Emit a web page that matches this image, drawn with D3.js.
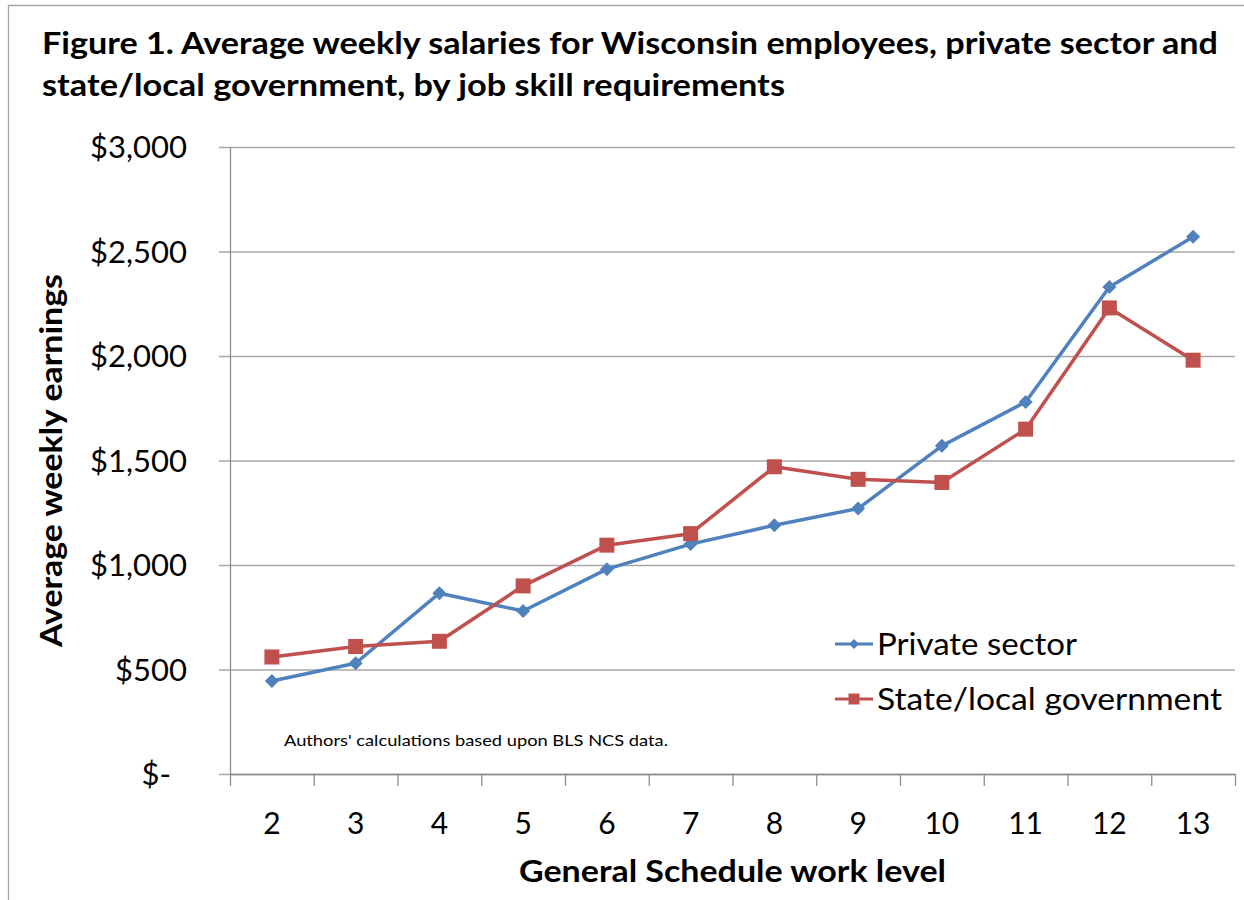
<!DOCTYPE html>
<html>
<head>
<meta charset="utf-8">
<script src="https://cdn.jsdelivr.net/npm/d3@7"></script>
<style>
    body { margin: 0; background: #fff; }
    svg { display: block; font-family: Lato, "Open Sans", sans-serif; }
    .grid line { stroke: #a6a6a6; stroke-width: 1.3; }
    .grid path { display: none; }
    .axis path, .axis line { stroke: #8c8c8c; stroke-width: 1.3; }
</style>
</head>
<body>
<svg></svg>
<script>
    //-------------------
    // DATA
    //-------------------
    var levels = ["2", "3", "4", "5", "6", "7", "8", "9", "10", "11", "12", "13"];
    var privateSector = [445, 530, 865, 780, 980, 1100, 1190, 1270, 1570, 1780, 2330, 2570];
    var stateLocal = [560, 610, 635, 900, 1095, 1150, 1470, 1410, 1395, 1650, 2230, 1980];
    var yTicks = [0, 500, 1000, 1500, 2000, 2500, 3000];
    var seriesNames = ["Private sector", "State/local government"];

    //-------------------
    // GLOBAL VARIABLES
    //-------------------
    var width = 1244,
        height = 900;

    // plot box (window.top is reserved, so no plain "top")
    var plotLeft = 230, plotRight = 1235, plotTop = 147, plotBottom = 774;

    var blue = "#4f81bd", red = "#c0504d";

    var svg = d3.select("svg")
        .attr("width", width)
        .attr("height", height);

    var x = d3.scaleBand()
        .domain(levels)
        .range([plotLeft, plotRight])
        .padding(0);

    var xEdges = d3.scaleLinear()
        .domain([0, levels.length])
        .range([plotLeft, plotRight]);

    var y = d3.scaleLinear()
        .domain([0, 3000])
        .range([plotBottom, plotTop]);

    // outer chart border
    svg.append("path")
        .attr("d", "M8.5," + (height + 2) + "V5.5H" + (width + 2))
        .attr("fill", "none")
        .attr("stroke", "#a6a6a6")
        .attr("stroke-width", 1.3);

    //------------
    // TITLE
    //------------
    var titleLines = [
        { text: "Figure 1. Average weekly salaries for Wisconsin employees, private sector and", y: 54, w: 1176 },
        { text: "state/local government, by job skill requirements", y: 96, w: 743 }
    ];
    svg.selectAll("text.title").data(titleLines)
        .enter()
        .append("text")
        .attr("class", "title")
        .attr("x", 42)
        .attr("y", d => d.y)
        .attr("textLength", d => d.w)
        .attr("lengthAdjust", "spacingAndGlyphs")
        .style("font-size", "30px")
        .style("font-weight", "bold")
        .text(d => d.text);

    //------------
    // GRID + AXES
    //------------
    svg.append("g")
        .attr("class", "grid")
        .attr("transform", "translate(" + plotRight + ",0)")
        .call(d3.axisLeft(y).tickValues(yTicks).tickSize(plotRight - 219).tickFormat(""));

    svg.append("g")
        .attr("class", "axis")
        .attr("transform", "translate(" + plotLeft + ",0)")
        .call(d3.axisLeft(y).tickValues([]).tickSizeOuter(0));

    svg.append("g")
        .attr("class", "axis")
        .attr("transform", "translate(0," + plotBottom + ")")
        .call(d3.axisBottom(xEdges).tickValues(d3.range(levels.length + 1)).tickSize(12).tickSizeOuter(0).tickFormat(""));

    // y labels (accounting format, zero shows as "$-")
    svg.selectAll("text.ylab").data(yTicks)
        .enter()
        .append("text")
        .attr("class", "ylab")
        .attr("x", d => d === 0 ? plotLeft - 59 : plotLeft - 43)
        .attr("y", d => y(d) + 11)
        .attr("text-anchor", "end")
        .style("font-size", "31px")
        .text(d => d === 0 ? "$-" : "$" + d3.format(",")(d));

    // x labels
    svg.selectAll("text.xlab").data(levels)
        .enter()
        .append("text")
        .attr("class", "xlab")
        .attr("x", d => x(d) + x.bandwidth() / 2)
        .attr("y", 834)
        .attr("text-anchor", "middle")
        .style("font-size", "30px")
        .text(d => d);

    // axis titles
    svg.append("text")
        .attr("x", (plotLeft + plotRight) / 2)
        .attr("y", 882)
        .attr("text-anchor", "middle")
        .attr("textLength", 427)
        .attr("lengthAdjust", "spacingAndGlyphs")
        .style("font-size", "30px")
        .style("font-weight", "bold")
        .text("General Schedule work level");

    svg.append("text")
        .attr("transform", "translate(62," + (plotTop + plotBottom) / 2 + ") rotate(-90)")
        .attr("text-anchor", "middle")
        .attr("textLength", 373)
        .attr("lengthAdjust", "spacingAndGlyphs")
        .style("font-size", "30px")
        .style("font-weight", "bold")
        .text("Average weekly earnings");

    // source note
    svg.append("text")
        .attr("x", 284)
        .attr("y", 746)
        .attr("textLength", 384)
        .attr("lengthAdjust", "spacingAndGlyphs")
        .style("font-size", "16px")
        .text("Authors' calculations based upon BLS NCS data.");

    //------------
    // SERIES
    //------------
    var series = [
        { name: seriesNames[0], values: privateSector, color: blue, shape: "diamond", size: 14, legendSize: 10 },
        { name: seriesNames[1], values: stateLocal, color: red, shape: "square", size: 15, legendSize: 11 }
    ];

    var line = d3.line()
        .x((d, i) => x(levels[i]) + x.bandwidth() / 2)
        .y(d => y(d));

    // w is the full width of the marker in px
    function marker(shape, w) {
        return shape === "diamond"
            ? "M0," + (-w / 2) + "L" + (w / 2) + ",0L0," + (w / 2) + "L" + (-w / 2) + ",0Z"
            : "M" + (-w / 2) + "," + (-w / 2) + "h" + w + "v" + w + "h" + (-w) + "Z";
    }

    series.forEach(s => {
        svg.append("path")
            .datum(s.values)
            .attr("fill", "none")
            .attr("stroke", s.color)
            .attr("stroke-width", 3.5)
            .attr("stroke-linejoin", "round")
            .attr("d", line);

        svg.selectAll(null).data(s.values)
            .enter()
            .append("path")
            .attr("transform", (d, i) => "translate(" + (x(levels[i]) + x.bandwidth() / 2) + "," + y(d) + ")")
            .attr("d", marker(s.shape, s.size))
            .attr("fill", s.color);
    });

    //------------
    // LEGEND
    //------------
    var legend = svg.selectAll("g.legend").data(series)
        .enter()
        .append("g")
        .attr("class", "legend")
        .attr("transform", (d, i) => "translate(835," + (644 + i * 55) + ")");

    legend.append("line")
        .attr("x1", 0).attr("x2", 38)
        .attr("stroke", d => d.color)
        .attr("stroke-width", 3);

    legend.append("path")
        .attr("transform", "translate(19,0)")
        .attr("d", d => marker(d.shape, d.legendSize))
        .attr("fill", d => d.color);

    legend.append("text")
        .attr("x", 42)
        .attr("y", 11)
        .attr("textLength", (d, i) => i === 0 ? 200 : 345)
        .attr("lengthAdjust", "spacingAndGlyphs")
        .style("font-size", "30px")
        .text(d => d.name);
</script>
</body>
</html>
